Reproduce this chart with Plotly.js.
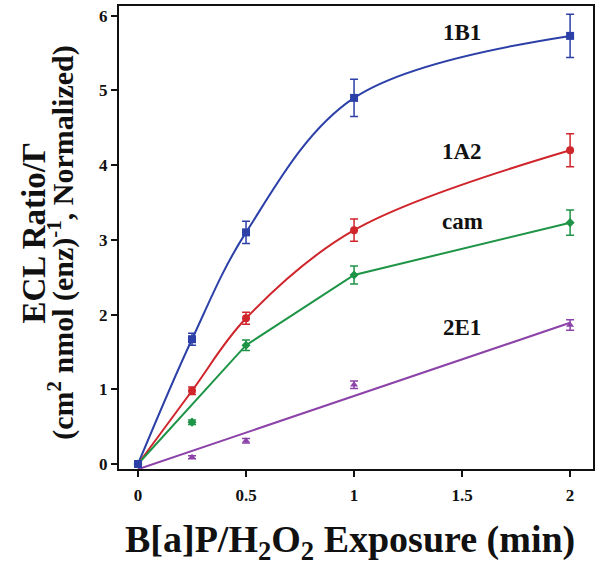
<!DOCTYPE html>
<html><head><meta charset="utf-8">
<script src="https://cdn.plot.ly/plotly-3.0.1.min.js"></script>
<style>html,body{margin:0;padding:0;background:#fff;}#chart{width:600px;height:582px;}</style>
</head><body><div id="chart"></div>
<script>
const xVals = [0, 0.25, 0.5, 1, 2];
const b1Y = [0, 1.67, 3.1, 4.9, 5.73];
const b1Err = [0.03, 0.08, 0.15, 0.25, 0.29];
const a2Y = [0, 0.98, 1.95, 3.13, 4.2];
const a2Err = [0.02, 0.05, 0.08, 0.15, 0.22];
const camY = [0, 0.56, 1.59, 2.53, 3.23];
const camErr = [0.02, 0.03, 0.07, 0.12, 0.17];
const camLineX = [0, 0.5, 1, 2];
const camLineY = [0, 1.59, 2.53, 3.23];
const e1Y = [0, 0.09, 0.31, 1.06, 1.86];
const e1Err = [0.02, 0.02, 0.03, 0.05, 0.07];
const e1FitX = [0, 2];
const e1FitY = [-0.07, 1.89];
const seriesNames = ['1B1', '1A2', 'cam', '2E1'];
const labelY = [5.78, 4.18, 3.25, 1.83];
const xTicks = [0, 0.5, 1, 1.5, 2];
const xTickText = ['0', '0.5', '1', '1.5', '2'];
const yTicks = [0, 1, 2, 3, 4, 5, 6];

const cBlue = '#2c40a8', cRed = '#cf252b', cGreen = '#1d9446', cPurple = '#8c42a8';

function lineTrace(x, y, color, shape) {
  return {x: x, y: y, mode: 'lines', type: 'scatter', line: {color: color, width: 2, shape: shape, smoothing: 1}, hoverinfo: 'skip'};
}
function ptTrace(y, err, color, symbol, size) {
  return {x: xVals, y: y, mode: 'markers', type: 'scatter',
    marker: {color: color, symbol: symbol, size: size},
    error_y: {type: 'data', array: err, visible: true, color: color, thickness: 1.5, width: 4}};
}
const data = [
  lineTrace(xVals, b1Y, cBlue, 'spline'),
  lineTrace(xVals, a2Y, cRed, 'spline'),
  lineTrace(camLineX, camLineY, cGreen, 'linear'),
  lineTrace(e1FitX, e1FitY, cPurple, 'linear'),
  ptTrace(e1Y, e1Err, cPurple, 'triangle-up', 7),
  ptTrace(camY, camErr, cGreen, 'diamond', 7),
  ptTrace(a2Y, a2Err, cRed, 'circle', 8),
  ptTrace(b1Y, b1Err, cBlue, 'square', 8)
];

const ff = 'Liberation Serif, Times New Roman, serif';
const font = {family: ff, color: '#111'};
const annotations = seriesNames.map((n, i) => ({
  x: 1.5, y: labelY[i], xref: 'x', yref: 'y', text: '<b>' + n + '</b>', showarrow: false,
  font: {family: ff, size: 23, color: '#111'}
}));
annotations.push({xref: 'paper', yref: 'paper', x: -0.18, y: 0.51, text: '<b>ECL Ratio/Γ</b>', textangle: -90,
  showarrow: false, font: {family: ff, size: 33, color: '#111'}, xanchor: 'center', yanchor: 'middle'});
annotations.push({xref: 'paper', yref: 'paper', x: -0.123, y: 0.49, text: '<b>(cm<sup>2</sup> nmol (enz)<sup>-1</sup>, Normalized)</b>', textangle: -90,
  showarrow: false, font: {family: ff, size: 30, color: '#111'}, xanchor: 'center', yanchor: 'middle'});
annotations.push({xref: 'paper', yref: 'paper', x: 0.488, y: -0.158, text: '<b>B[a]P/H<sub>2</sub>O<sub>2</sub> Exposure (min)</b>',
  showarrow: false, font: {family: ff, size: 38, color: '#111'}, xanchor: 'center', yanchor: 'middle'});

const layout = {
  width: 600, height: 582,
  margin: {l: 119, r: 7, t: 6, b: 113},
  paper_bgcolor: '#fff', plot_bgcolor: '#fff',
  showlegend: false,
  font: font,
  xaxis: {range: [-0.088, 2.106], tickvals: xTicks, ticktext: xTickText.map(t => '<b>' + t + '</b>'),
    ticks: 'outside', ticklen: 6, tickwidth: 2, tickcolor: '#111', showline: true, linewidth: 2, linecolor: '#111', mirror: true,
    showgrid: false, zeroline: false, tickfont: {family: ff, size: 17, color: '#111'}, ticklabelstandoff: 4},
  yaxis: {range: [-0.067, 6.13], tickvals: yTicks, ticktext: yTicks.map(t => '<b>' + t + '</b>'),
    ticks: 'outside', ticklen: 6, tickwidth: 2, tickcolor: '#111', showline: true, linewidth: 2, linecolor: '#111', mirror: true,
    showgrid: false, zeroline: false, tickfont: {family: ff, size: 17, color: '#111'}},
  annotations: annotations
};
Plotly.newPlot('chart', data, layout, {staticPlot: true});
</script></body></html>
